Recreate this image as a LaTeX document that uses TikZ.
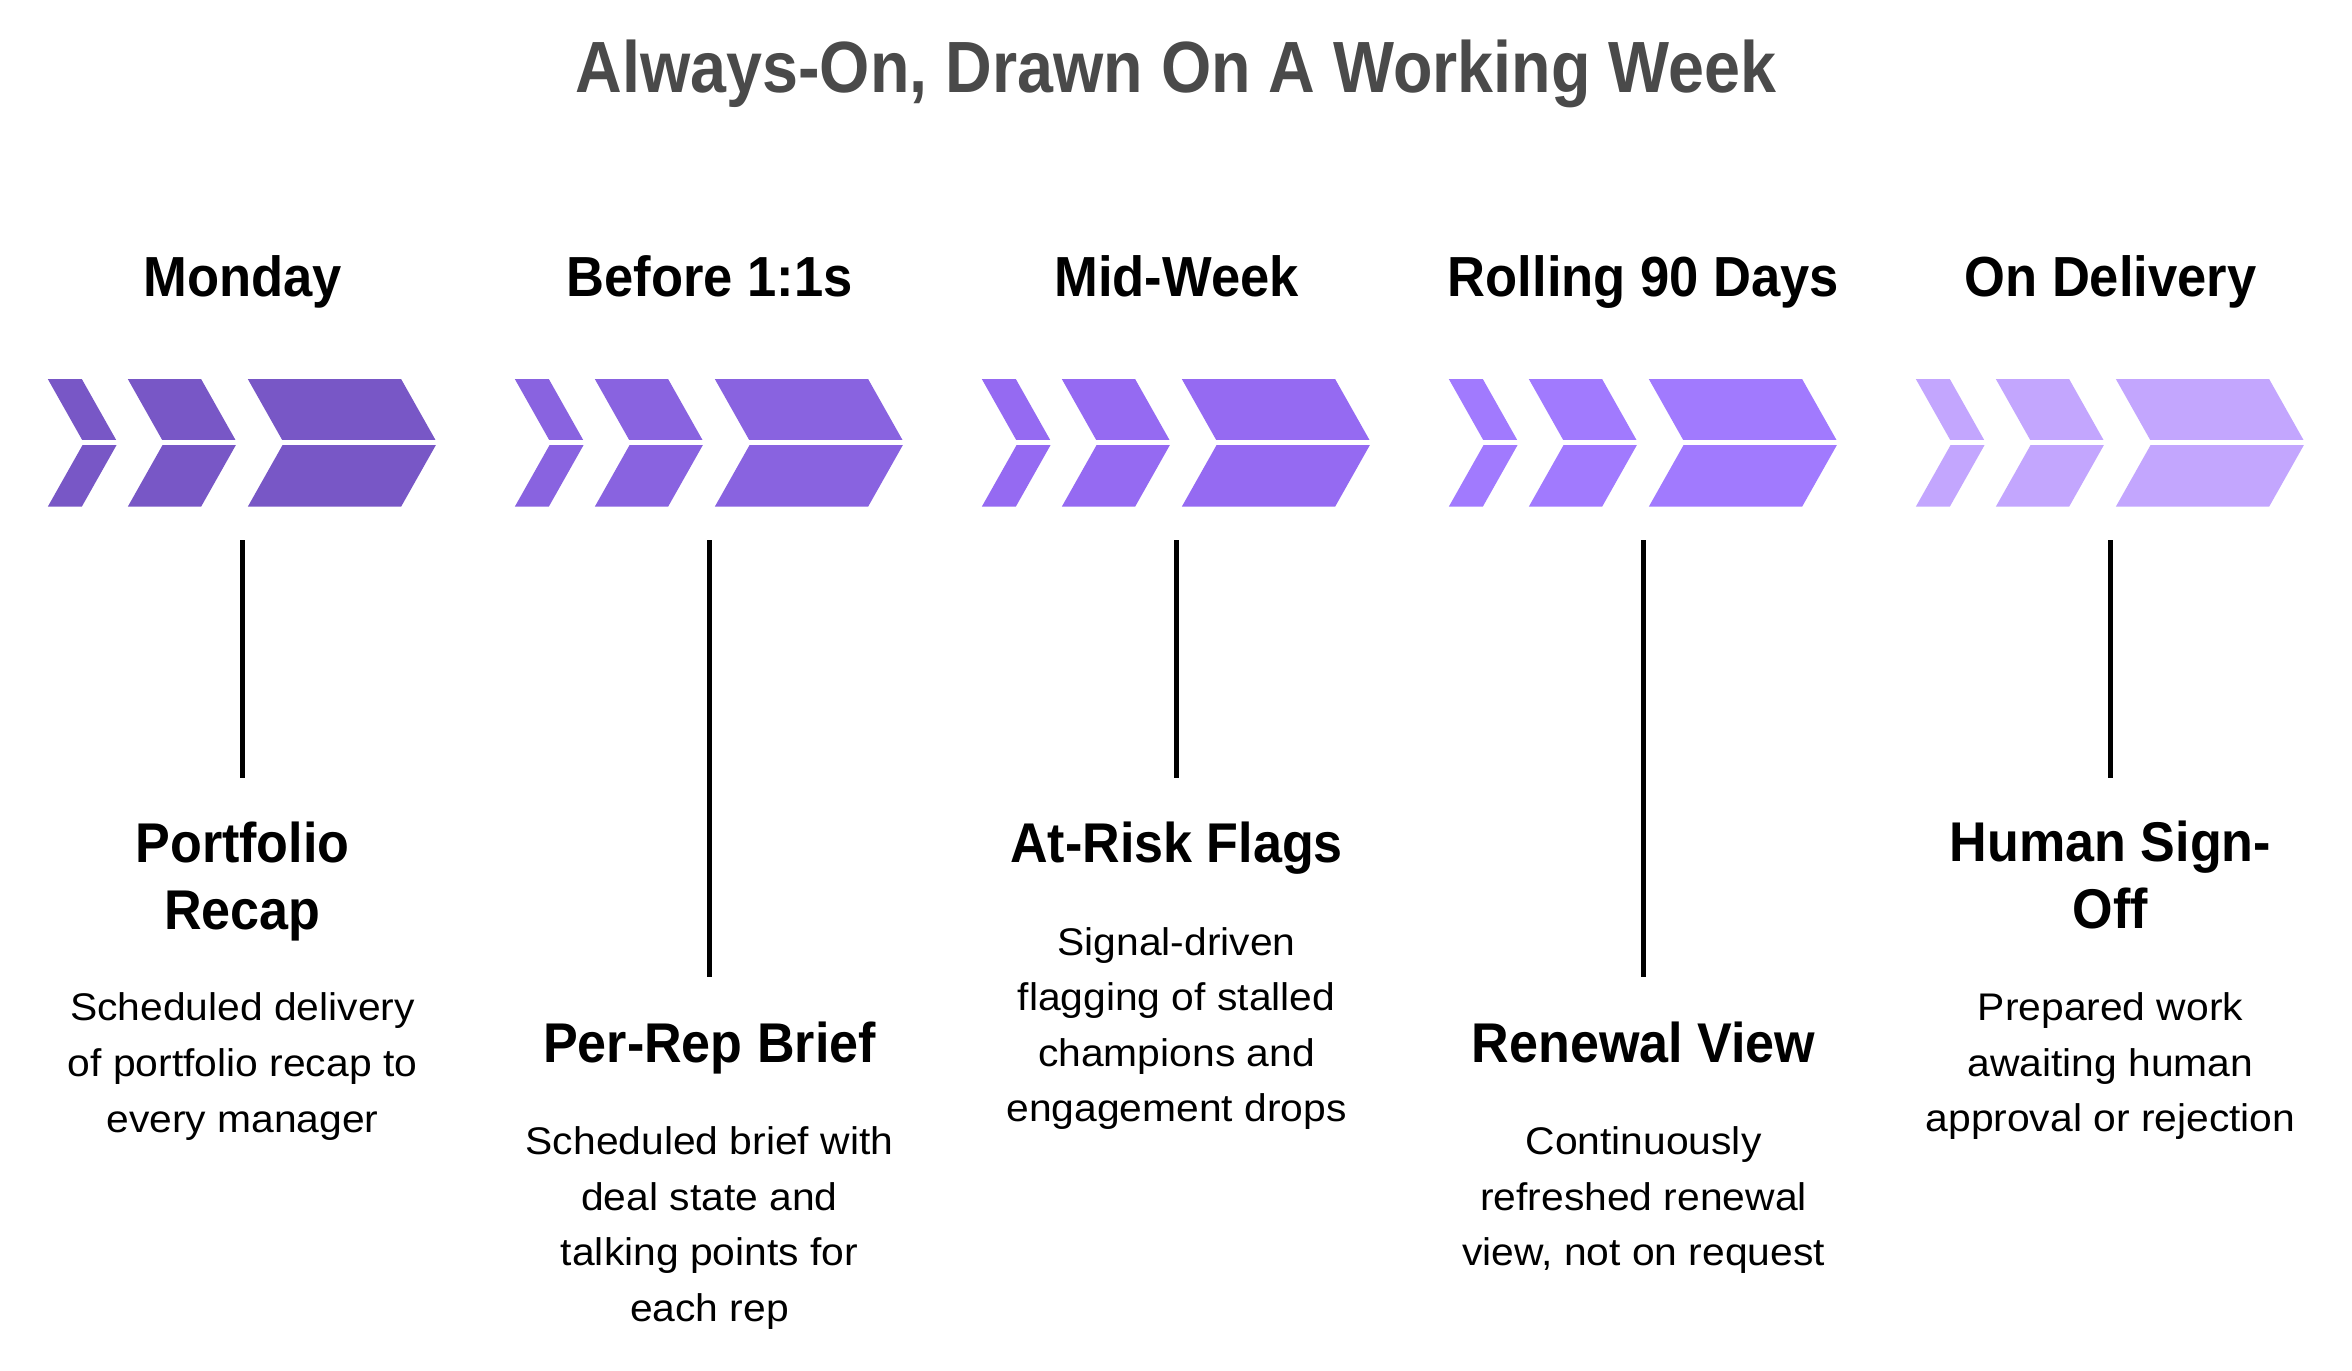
\documentclass[tikz,border=0pt]{standalone}
\usepackage{fontspec}
\setmainfont{Liberation Sans}
\newfontfamily\boldfam{Liberation Sans}[FakeStretch=0.93]
\newfontfamily\titlefam{Liberation Sans}[FakeStretch=0.89]
\newfontfamily\regfam{Liberation Sans}[FakeStretch=1.06]
\definecolor{gA}{HTML}{7857C6}
\definecolor{gB}{HTML}{8963E0}
\definecolor{gC}{HTML}{956AF2}
\definecolor{gD}{HTML}{A17AFE}
\definecolor{gE}{HTML}{C3A6FE}
\definecolor{titlegray}{HTML}{4A4A4A}
\tikzset{
  maintitle/.style={font=\titlefam\bfseries\fontsize{72.6}{80}\selectfont, text=titlegray, anchor=base, inner sep=0pt},
  hdr/.style={font=\boldfam\bfseries\fontsize{56.5}{66}\selectfont, text=black, anchor=base, inner sep=0pt},
  ttl/.style={font=\boldfam\bfseries\fontsize{56}{66}\selectfont, text=black, anchor=base, inner sep=0pt},
  dsc/.style={font=\regfam\fontsize{38.5}{56}\selectfont, text=black, anchor=base, inner sep=0pt},
  conn/.style={draw=black, line width=4.5pt},
  splitline/.style={draw=white, line width=5pt}
}
\newcommand\chevgroup[2]{% #1 center x, #2 colour
  \foreach \o/\w in {0/34,80/73.3,200/153.3}{
    \fill[#2] ({#1-194.7+\o},379) -- ++(\w,0) -- ++(36,63.85) -- ++(-36,63.85)
      -- ++(-\w,0) -- ++(36,-63.85) -- cycle;
  }
  \draw[splitline] ({#1-198},442.85) -- ({#1+198},442.85);
}
\begin{document}
\begin{tikzpicture}[x=1pt,y=-1pt]
\useasboundingbox (0,0) rectangle (2352,1370);
\fill[white] (0,0) rectangle (2352,1370);

\node[maintitle] (title) at (1176,92.7) {Always-On, Drawn On A Working Week};

% headers
\node[hdr] (h1) at (242.5,296.7) {Monday};
\node[hdr] (h2) at (709.5,296.7) {Before 1:1s};
\node[hdr] (h3) at (1176.5,296.7) {Mid-Week};
\node[hdr] (h4) at (1643.5,296.7) {Rolling 90 Days};
\node[hdr] (h5) at (2110.5,296.7) {On Delivery};

% chevrons
\chevgroup{242.5}{gA}
\chevgroup{709.5}{gB}
\chevgroup{1176.5}{gC}
\chevgroup{1643.5}{gD}
\chevgroup{2110.5}{gE}

% connectors
\coordinate (l1t) at (242.5,540);  \coordinate (l1b) at (242.5,778);
\coordinate (l2t) at (709.5,540);  \coordinate (l2b) at (709.5,977);
\coordinate (l3t) at (1176.5,540); \coordinate (l3b) at (1176.5,778);
\coordinate (l4t) at (1643.5,540); \coordinate (l4b) at (1643.5,977);
\coordinate (l5t) at (2110.5,540); \coordinate (l5b) at (2110.5,778);
\foreach \i in {1,...,5} \draw[conn] (l\i t) -- (l\i b);

% titles
\node[ttl] (t1a) at (242.5,862.7) {Portfolio};
\node[ttl] (t1b) at (242.5,929.3) {Recap};
\node[ttl] (t2) at (709.5,1062.7) {Per-Rep Brief};
\node[ttl] (t3) at (1176.5,862.3) {At-Risk Flags};
\node[ttl] (t4) at (1643.5,1062.7) {Renewal View};
\node[ttl] (t5a) at (2110.5,861.7) {Human Sign-};
\node[ttl] (t5b) at (2110.5,928.3) {Off};

% descriptions
\foreach \t [count=\i] in {Scheduled delivery, of portfolio recap to, every manager}
  \node[dsc] (d1-\i) at (242.5,{1020.7+(\i-1)*56}) {\t};
\foreach \t [count=\i] in {Scheduled brief with, deal state and, talking points for, each rep}
  \node[dsc] (d2-\i) at (709.5,{1154.3+(\i-1)*55.7}) {\t};
\foreach \t [count=\i] in {Signal-driven, flagging of stalled, champions and, engagement drops}
  \node[dsc] (d3-\i) at (1176.5,{955+(\i-1)*55.6}) {\t};
\foreach \t [count=\i] in {Continuously, refreshed renewal, {view, not on request}}
  \node[dsc] (d4-\i) at (1643.5,{1154.3+(\i-1)*55.7}) {\t};
\foreach \t [count=\i] in {Prepared work, awaiting human, approval or rejection}
  \node[dsc] (d5-\i) at (2110.5,{1020.7+(\i-1)*55.5}) {\t};
\end{tikzpicture}
\end{document}
